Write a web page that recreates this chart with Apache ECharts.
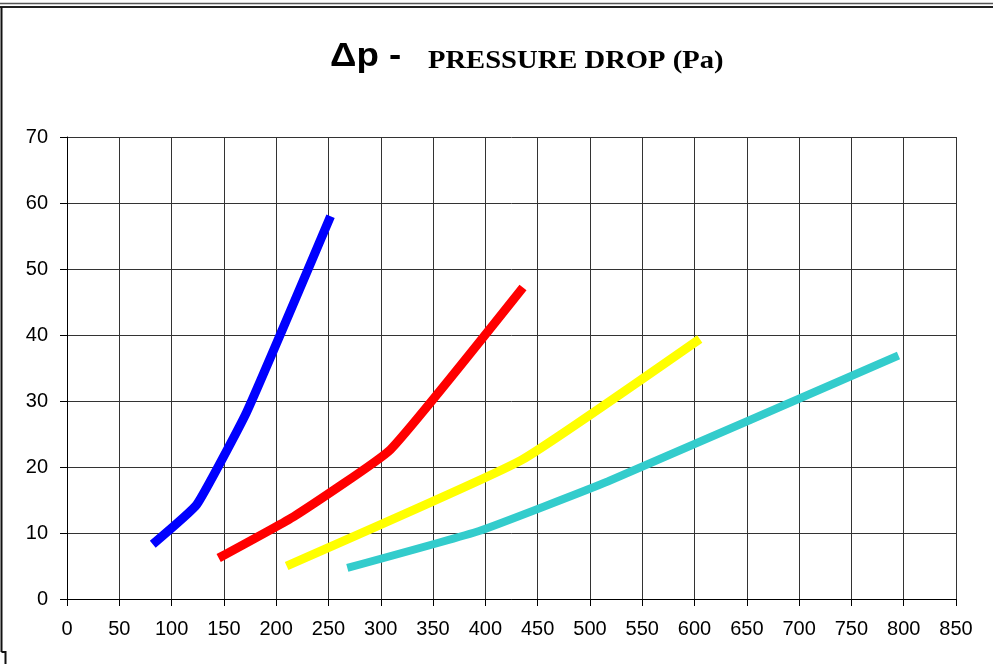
<!DOCTYPE html>
<html><head><meta charset="utf-8">
<script src="https://cdn.jsdelivr.net/npm/echarts@6/dist/echarts.min.js"></script>
<style>html,body{margin:0;padding:0;background:#fff}#c{width:993px;height:664px}</style>
</head><body><div id="c"></div>
<script>
const titleMain = 'Δp -';
const titleSub = 'PRESSURE DROP (Pa)';
const xTicks = [0,50,100,150,200,250,300,350,400,450,500,550,600,650,700,750,800,850];
const yTicks = [0,10,20,30,40,50,60,70];
const blueX = [82, 124, 172, 252];
const blueY = [8.3, 14.3, 28.4, 58.0];
const redX = [145, 217, 309, 436];
const redY = [6.2, 12.5, 22.6, 47.2];
const yellowX = [210, 434, 605];
const yellowY = [5.0, 21.0, 39.4];
const cyanX = [268, 394, 517, 795];
const cyanY = [4.7, 10.3, 17.8, 36.9];

function pairs(xs, ys){ return xs.map((x,i)=>[x, ys[i]]); }
function ser(xs, ys, color, w){
  return {type:'line', data: pairs(xs, ys), smooth:0.12, showSymbol:false,
    lineStyle:{color:color, width:w, cap:'butt'}, itemStyle:{color:color}};
}
const chart = echarts.init(document.getElementById('c'), null, {renderer:'canvas'});
chart.setOption({
  animation:false,
  backgroundColor:'#fff',
  grid:{left:67, right:37, top:137, bottom:65, containLabel:false},
  xAxis:{type:'value', min:xTicks[0], max:xTicks[xTicks.length-1], interval:50,
    axisLine:{lineStyle:{color:'#000', width:1}},
    axisTick:{show:true, length:7, lineStyle:{color:'#000'}},
    axisLabel:{color:'#000', fontFamily:'Liberation Sans', fontSize:20, margin:20},
    splitLine:{show:true, lineStyle:{color:'#333', width:1}}},
  yAxis:{type:'value', min:yTicks[0], max:yTicks[yTicks.length-1], interval:10,
    axisLine:{show:true, lineStyle:{color:'#000', width:1}},
    axisTick:{show:true, length:7, lineStyle:{color:'#000'}},
    axisLabel:{color:'#000', fontFamily:'Liberation Sans', fontSize:20, margin:19},
    splitLine:{show:true, lineStyle:{color:'#333', width:1}}},
  series:[
    ser(blueX, blueY, '#0000FF', 9),
    ser(redX, redY, '#FF0000', 9),
    ser(yellowX, yellowY, '#FFFF00', 9),
    ser(cyanX, cyanY, '#33CCCC', 8)
  ],
  graphic:[
    {type:'text', x:330, y:57, scaleX:1.08, style:{text:titleMain, fill:'#000',
      font:'bold 34px "Liberation Sans"', textVerticalAlign:'middle', textAlign:'left'}},
    {type:'text', x:428, y:61, scaleX:1.1, style:{text:titleSub, fill:'#000',
      font:'bold 26px "Liberation Serif"', textVerticalAlign:'middle', textAlign:'left'}},
    {type:'line', shape:{x1:0,y1:3.5,x2:993,y2:3.5}, style:{stroke:'#555', lineWidth:1.5}},
    {type:'line', shape:{x1:0,y1:7,x2:993,y2:7}, style:{stroke:'#222', lineWidth:2}},
    {type:'line', shape:{x1:1.5,y1:7,x2:1.5,y2:652}, style:{stroke:'#111', lineWidth:2}},
    {type:'polyline', shape:{points:[[1.5,652],[5.5,652],[5.5,664]]}, style:{stroke:'#111', lineWidth:2, fill:null}}
  ]
});
</script></body></html>
